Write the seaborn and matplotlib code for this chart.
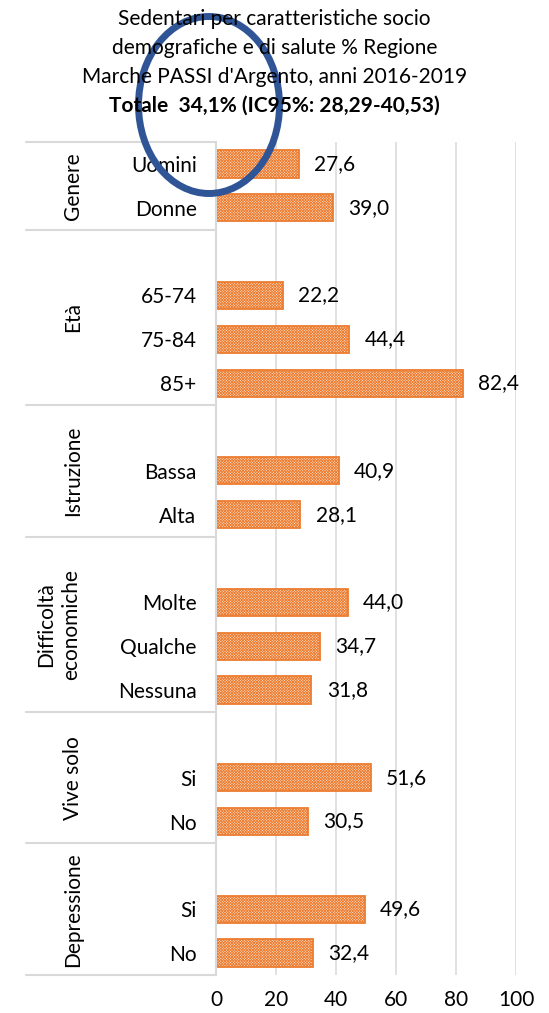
import pandas as pd
import numpy as np
import matplotlib
matplotlib.use("Agg")
import matplotlib.pyplot as plt
import matplotlib.transforms as mtransforms
from matplotlib.patches import Ellipse
import seaborn as sns

# dati (Regione Marche, PASSI d'Argento 2016-2019)
groups = ["Genere", "Età", "Istruzione", "Difficoltà\neconomiche", "Vive solo", "Depressione"]
genere_cat = ["Uomini", "Donne"]
genere_val = [27.6, 39.0]
eta_cat = ["65-74", "75-84", "85+"]
eta_val = [22.2, 44.4, 82.4]
istruzione_cat = ["Bassa", "Alta"]
istruzione_val = [40.9, 28.1]
difficolta_cat = ["Molte", "Qualche", "Nessuna"]
difficolta_val = [44.0, 34.7, 31.8]
vive_solo_cat = ["Si", "No"]
vive_solo_val = [51.6, 30.5]
depressione_cat = ["Si", "No"]
depressione_val = [49.6, 32.4]
x_ticks = [0, 20, 40, 60, 80, 100]

title_lines = [
    "Sedentari per caratteristiche socio",
    "demografiche e di salute % Regione",
    "Marche PASSI d'Argento, anni 2016-2019",
]
title_bold = "Totale  34,1% (IC95%: 28,29-40,53)"

cats = [genere_cat, eta_cat, istruzione_cat, difficolta_cat, vive_solo_cat, depressione_cat]
vals = [genere_val, eta_val, istruzione_val, difficolta_val, vive_solo_val, depressione_val]

# costruzione righe: ogni gruppo tranne il primo ha una riga vuota in testa
rows, order, labels, bounds, centers = [], [], [], [-0.5], []
for g, cc, vv in zip(groups, cats, vals):
    start = len(order)
    if g != groups[0]:
        order.append(g + "|")
        labels.append("")
    for c, v in zip(cc, vv):
        key = g + "|" + c
        order.append(key)
        labels.append(c)
        rows.append({"key": key, "value": v})
    bounds.append(len(order) - 0.5)
    centers.append((start + len(order) - 1) / 2)
df = pd.DataFrame(rows)

sns.set_theme(style="white")
plt.rcParams["font.family"] = ["Lato", "DejaVu Sans"]
plt.rcParams["text.color"] = "black"
plt.rcParams["hatch.linewidth"] = 0.6
FS = 15

fig = plt.figure(figsize=(5.49, 10.13), dpi=100)
ax = fig.add_axes([216 / 549, 1 - 975 / 1013, 300 / 549, (975 - 142) / 1013])

orange = "#ED7D31"
sns.barplot(data=df, y="key", x="value", order=order, orient="h", width=0.62,
            color="#FBE3D3", saturation=1, edgecolor=orange, linewidth=1.3,
            hatch="x" * 12, ax=ax)

for p in ax.patches:
    w = p.get_width()
    y = p.get_y() + p.get_height() / 2
    ax.annotate(f"{w:.1f}".replace(".", ","), (w, y), xytext=(11, 0),
                textcoords="offset points", va="center", ha="left",
                fontsize=FS, color="black")

ax.set_xlim(0, 100)
ax.set_ylim(len(order) - 0.5, -0.5)
ax.set_xticks(x_ticks)
ax.set_xticklabels([str(t) for t in x_ticks], fontsize=FS, color="black")
ax.set_yticks(range(len(order)))
ax.set_yticklabels(labels, fontsize=FS, color="black")
ax.tick_params(axis="y", length=0, pad=14)
ax.tick_params(axis="x", length=0, pad=11)
ax.set_xlabel("")
ax.set_ylabel("")
ax.grid(axis="x", color="#D9D9D9", linewidth=1.1)
ax.set_axisbelow(True)
for s in ["top", "right", "bottom"]:
    ax.spines[s].set_visible(False)
ax.spines["left"].set_color("#D9D9D9")
ax.spines["left"].set_linewidth(1.5)

# linee di separazione e etichette dei gruppi
trans = mtransforms.blended_transform_factory(ax.transAxes, ax.transData)
x_left = (26 - 216) / 300
for b in bounds:
    ax.plot([x_left, 0], [b, b], transform=trans, color="#D9D9D9",
            linewidth=1.5, clip_on=False)
x_grp = (73 - 216) / 300
for g, c in zip(groups, centers):
    xg = x_grp if "\n" not in g else (58.5 - 216) / 300
    ax.text(xg, c, g, transform=trans, rotation=90, ha="center", va="center",
            fontsize=FS, multialignment="center", linespacing=1.35)

# titolo
ys = [19, 48, 77]
for t, y in zip(title_lines, ys):
    fig.text(0.5, 1 - y / 1013, t, ha="center", va="center", fontsize=FS)
fig.text(0.5, 1 - 106 / 1013, title_bold, ha="center", va="center",
         fontsize=FS, fontweight="bold")

# ellisse blu sovrapposta
ell = Ellipse((209 / 549, 1 - 105 / 1013), 141 / 549, 177 / 1013,
              transform=fig.transFigure, fill=False, edgecolor="#2F5597",
              linewidth=5)
fig.patches.append(ell)

fig.savefig("out.png", dpi=100)
